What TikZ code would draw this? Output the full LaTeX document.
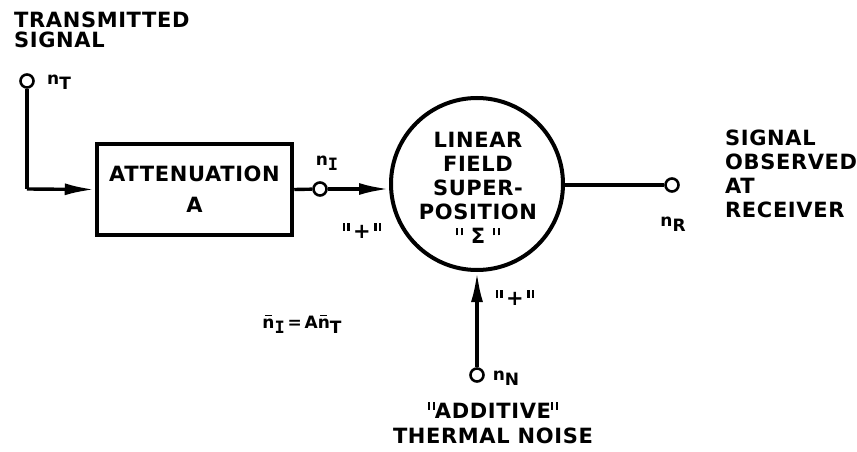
\documentclass[tikz,border=0pt]{standalone}
\usepackage{fontspec}
\setmainfont{DejaVu Sans}[LetterSpace=3]
\newfontfamily\monob{DejaVu Sans Mono}
\usetikzlibrary{arrows.meta}
\newcommand\dq{\raisebox{0.4em}{\rule{0.11em}{0.36em}\hspace{0.12em}\rule{0.11em}{0.36em}}}
\newcommand\sbs[1]{\raisebox{-5pt}{#1}}
\newcommand\nb{\rlap{\hspace{0.14em}\raisebox{0.72em}{\rule{0.42em}{1.6pt}}}n}
\begin{document}
\begin{tikzpicture}[x=1pt,y=-1pt,
  term/.style={circle,draw,line width=2.6pt,minimum size=13pt,inner sep=0pt,fill=white},
  wire/.style={line width=3.4pt},
  arr/.style={wire,-{Latex[length=30pt,width=12pt]}},
  lbl/.style={font=\fontsize{17}{18}\selectfont\bfseries,inner sep=0pt},
  txt/.style={font=\fontsize{21}{24}\selectfont\bfseries,inner sep=0pt}]
\useasboundingbox (0,0) rectangle (857,452);
% nodes
\node[term] (nT) at (27,81) {};
\coordinate (c1) at (27,189);
\node[draw,line width=4.5pt,minimum width=195pt,minimum height=91pt,inner sep=0pt,
  align=center,font=\fontsize{21}{31}\selectfont\bfseries] (att) at (194.5,189.5) {ATTENUATION\\A};
\node[term] (nI) at (320,189) {};
\node[circle,draw,line width=4pt,minimum size=172pt,inner sep=0pt] (sum) at (477,184) {};
\node[txt,align=center,font=\fontsize{21}{24}\selectfont\bfseries] (sumtxt) at (478,188) {LINEAR\\FIELD\\SUPER-\\POSITION\\\dq\ {\addfontfeature{LetterSpace=0}Σ}\ \dq};
\node[term] (nR) at (672,185) {};
\node[term] (nN) at (477,375) {};
% connectors
\draw[wire] (nT) -- (c1);
\draw[arr] (c1) -- (att.west);
\draw[wire] (att.east) -- (nI);
\draw[arr] (nI) -- (sum.west |- nI);
\draw[wire] (sum.east |- nR) -- (nR);
\draw[arr] (nN) -- (sum.south);
% labels
\node[txt,align=left,anchor=north west] (ts) at (14,12) {TRANSMITTED\\[-4pt]SIGNAL};
\node[lbl] (lT) at (59,82) {n\sbs{T}};
\node[lbl] (lI) at (327,163) {n\sbs{\monob I}};
\node[lbl,font=\fontsize{21}{21}\selectfont\bfseries] (p1) at (362,231) {\dq\,+\,\dq};
\node[lbl,font=\fontsize{21}{21}\selectfont\bfseries] (p2) at (515,298) {\dq\,+\,\dq};
\node[lbl] (lR) at (673,224) {n\sbs{R}};
\node[lbl] (lN) at (506,378) {n\sbs{N}};
\node[txt,align=left,anchor=west] (so) at (725,174) {SIGNAL\\OBSERVED\\AT\\RECEIVER};
\node[txt,align=center] (an) at (493,423) {\dq ADDITIVE\dq\\[1pt]THERMAL NOISE};
\node[lbl] (eq) at (302,324) {\nb\sbs{\monob I}\,=\,A\nb\sbs{T}};
\end{tikzpicture}
\end{document}
